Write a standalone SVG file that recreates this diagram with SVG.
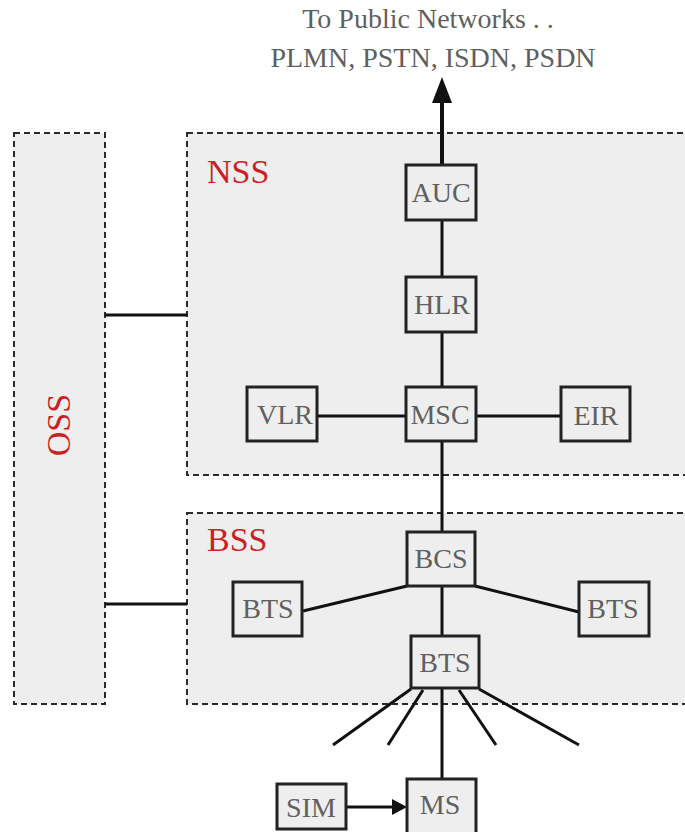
<svg xmlns="http://www.w3.org/2000/svg" width="685" height="832" viewBox="0 0 685 832">
<defs>
<style>
.grp{fill:#eeeeee;stroke:#2a2a2a;stroke-width:2;stroke-dasharray:6 4}
.node rect{fill:#eeeeee;stroke:#222;stroke-width:3}
.lbl{font-family:'Liberation Serif','DejaVu Serif',serif;font-size:28px;fill:#5f5f5f;text-anchor:middle}
.red{font-family:'Liberation Serif','DejaVu Serif',serif;font-size:34px;fill:#cc1f25}
.ln{stroke:#111;stroke-width:3;fill:none}
</style>
</defs>
<rect width="685" height="832" fill="#ffffff"/>
<text class="lbl" x="428" y="28">To Public Networks . .</text>
<text class="lbl" x="433" y="67">PLMN, PSTN, ISDN, PSDN</text>

<g id="OSS">
<rect class="grp" x="14" y="133" width="91" height="571"/>
<text class="red" x="0" y="0" text-anchor="middle" transform="translate(70,425) rotate(-90)">OSS</text>
</g>
<g id="NSS">
<rect class="grp" x="187" y="133" width="520" height="342"/>
<text class="red" x="207" y="183">NSS</text>
</g>
<g id="BSS">
<rect class="grp" x="187" y="513" width="520" height="191"/>
<text class="red" x="207" y="551">BSS</text>
</g>

<g id="connectors">
<line class="ln" x1="105" y1="315" x2="187" y2="315"/>
<line class="ln" x1="105" y1="604" x2="187" y2="604"/>
<line x1="442" y1="165" x2="442" y2="100" stroke="#111" stroke-width="4"/>
<path d="M442,77 L432,103 L452,103 z" fill="#111"/>
<line class="ln" x1="442" y1="220" x2="442" y2="277"/>
<line class="ln" x1="442" y1="332" x2="442" y2="387"/>
<line class="ln" x1="317" y1="416" x2="406" y2="416"/>
<line class="ln" x1="476" y1="416" x2="561" y2="416"/>
<line class="ln" x1="442" y1="441" x2="442" y2="532"/>
<line class="ln" x1="407" y1="586" x2="303" y2="611"/>
<line class="ln" x1="475" y1="586" x2="579" y2="612"/>
<line class="ln" x1="442" y1="586" x2="442" y2="636"/>
<line class="ln" x1="411" y1="689" x2="333" y2="745"/>
<line class="ln" x1="423" y1="690" x2="388" y2="745"/>
<line class="ln" x1="442" y1="688" x2="442" y2="779"/>
<line class="ln" x1="459" y1="690" x2="496" y2="745"/>
<line class="ln" x1="479" y1="689" x2="579" y2="745"/>
<line class="ln" x1="346" y1="807" x2="394" y2="807"/>
<path d="M407,807 L392,799 L392,815 z" fill="#111"/>
</g>

<g id="AUC" class="node"><rect x="406" y="165" width="70" height="55"/><text class="lbl" x="441" y="202">AUC</text></g>
<g id="HLR" class="node"><rect x="406" y="277" width="70" height="55"/><text class="lbl" x="442" y="314">HLR</text></g>
<g id="MSC" class="node"><rect x="406" y="387" width="70" height="54"/><text class="lbl" x="440" y="424">MSC</text></g>
<g id="VLR" class="node"><rect x="247" y="387" width="70" height="54"/><text class="lbl" x="285" y="424">VLR</text></g>
<g id="EIR" class="node"><rect x="561" y="387" width="69" height="54"/><text class="lbl" x="596" y="425">EIR</text></g>
<g id="BCS" class="node"><rect x="407" y="532" width="68" height="54"/><text class="lbl" x="441" y="568">BCS</text></g>
<g id="BTS_left" class="node"><rect x="233" y="582" width="69" height="54"/><text class="lbl" x="268" y="618">BTS</text></g>
<g id="BTS_right" class="node"><rect x="579" y="582" width="70" height="54"/><text class="lbl" x="613" y="618">BTS</text></g>
<g id="BTS_center" class="node"><rect x="411" y="636" width="68" height="52"/><text class="lbl" x="445" y="672">BTS</text></g>
<g id="MS" class="node"><rect x="407" y="779" width="69" height="56"/><text class="lbl" x="440" y="814">MS</text></g>
<g id="SIM" class="node"><rect x="277" y="784" width="69" height="45"/><text class="lbl" x="311" y="817">SIM</text></g>
</svg>
